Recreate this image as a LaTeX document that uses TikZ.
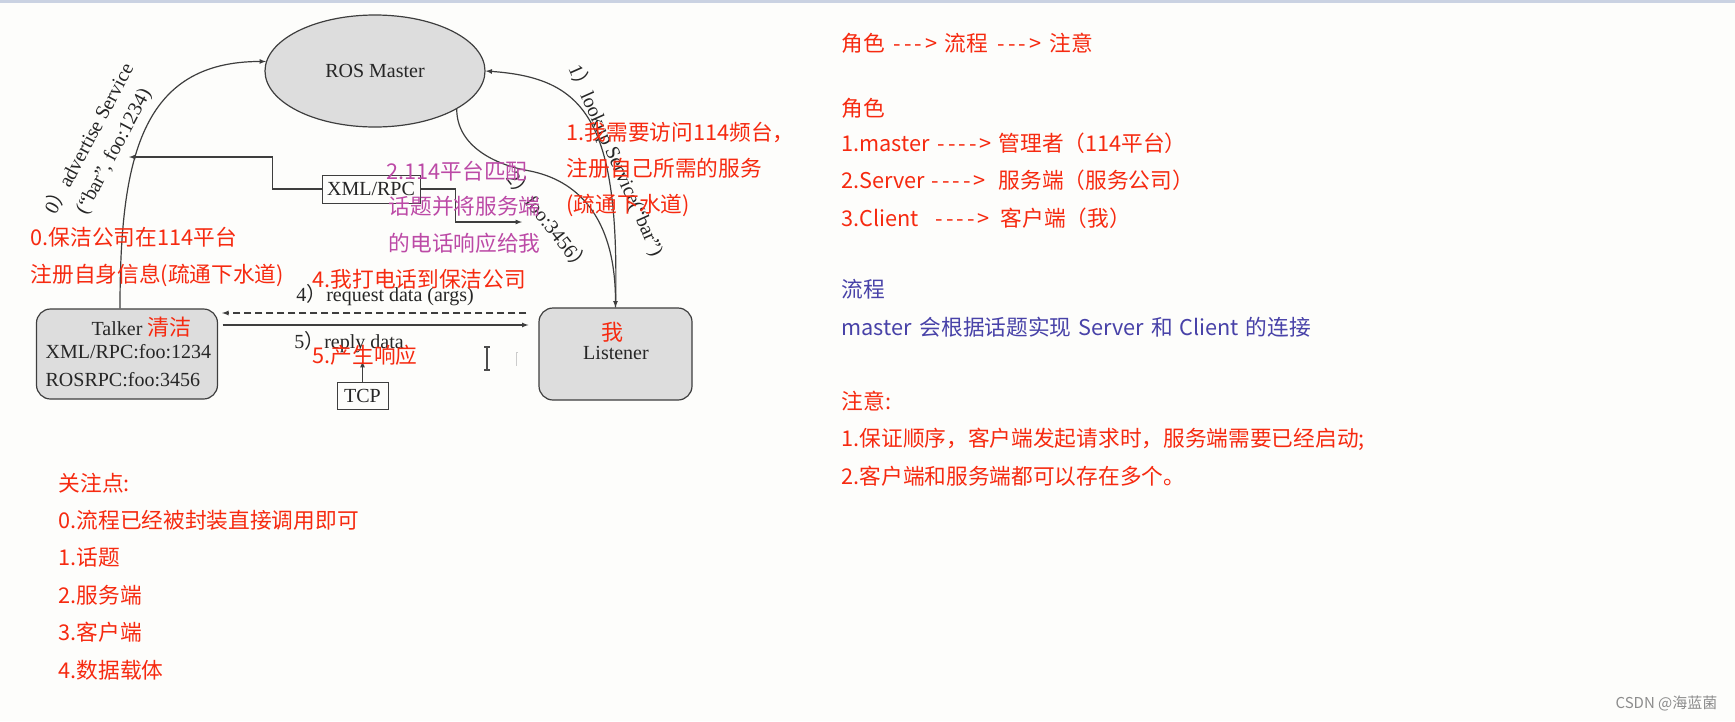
\documentclass[tikz,border=0pt]{standalone}
\usepackage{fontspec}
\setmainfont{Liberation Serif}
\newfontfamily\cjk{Noto Sans CJK SC}
\usetikzlibrary{shapes.geometric}

\definecolor{notered}{RGB}{246,42,16}
\definecolor{notepurple}{RGB}{188,74,166}
\definecolor{noteblue}{RGB}{72,66,168}
\definecolor{boxfill}{RGB}{221,221,221}
\definecolor{boxedge}{RGB}{62,62,62}
\definecolor{pagebg}{RGB}{253,253,251}
\definecolor{topband}{RGB}{202,210,226}

\newcommand{\hy}{-\kern3pt}
\newcommand{\darr}{\hy\hy\hy>}
\newcommand{\ddarr}{\hy\hy\hy\hy>}

\begin{document}
\begin{tikzpicture}[>=latex, x=1pt, y=-1pt, line width=1.2pt,
    every node/.style={inner sep=0pt, text=black!85, font=\fontsize{20}{24}\selectfont},
    box/.style={draw=boxedge, fill=boxfill, rounded corners=14pt},
    tag/.style={draw=boxedge, fill=pagebg, line width=1pt},
    conn/.style={draw=boxedge},
    note/.style={anchor=west, text=notered, font=\cjk\fontsize{21.7}{26}\selectfont},
    notep/.style={note, text=notepurple},
    noteb/.style={note, text=noteblue}]
\useasboundingbox (0,0) rectangle (1735,721);
\fill[pagebg] (0,0) rectangle (1735,721);
\fill[topband] (0,0) rectangle (1735,3);

% nodes
\node[ellipse, draw=boxedge, fill=boxfill, minimum width=220, minimum height=112] (master) at (375,71) {ROS Master};
\node[box, minimum width=181, minimum height=90] (talker) at (127,354) {};
\node[box, minimum width=153, minimum height=92] (listener) at (615.5,354) {};

\node[anchor=base west] (talkername) at (91,335) {Talker \textcolor{notered}{\cjk\fontsize{22}{24}\selectfont 清洁}};
\node[anchor=base west] (talkerxml) at (45,358) {XML/RPC:foo:1234};
\node[anchor=base west] (talkerros) at (45,386) {ROSRPC:foo:3456};
\node[text=notered, font=\cjk\fontsize{22}{24}\selectfont] (listenerme) at (612,332) {我};
\node (listenername) at (616,353) {Listener};

\node[tag, minimum width=98, minimum height=28] (xmlrpc) at (371,189) {XML/RPC};
\node[tag, minimum width=51, minimum height=27] (tcp) at (362.5,396) {TCP};

\node (req) at (385,295) {4{\cjk ）}request data (args)};
\node (reply) at (349,342) {5{\cjk ）}reply data};
\node[rotate=62, align=center, font=\fontsize{20}{27}\selectfont] (advlabel) at (101,145)
    {0{\cjk ）}advertise Service\\(“bar”, foo:1234)};
\node[rotate=-66] (lookuplabel) at (616,160) {1{\cjk ）}lookup Service(“bar”)};
\node[rotate=-52] (foolabel) at (549,222) {2{\cjk ）}foo:3456{\cjk ）}};

\coordinate (advtip) at (129,157);
\coordinate (footip) at (522,222);
\coordinate (fookink) at (530,171);
\coordinate (tcptip) at (362.5,361);

% connectors
\draw[conn, ->] ([xshift=-7pt]talker.north) .. controls +(0,-150) and +(-125,0) .. (master.175);
\draw[conn, ->] (listener.north) .. controls +(4.5,-188) and (585,78) .. (master.east);
\draw[conn, ->] (master.-25) .. controls +(0,37) and +(-35,-6) .. (fookink)
    .. controls +(45,9) and +(0,-93) .. (listener.north);
\draw[conn, ->] (xmlrpc.west) -- ++(-49,0) |- (advtip);
\draw[conn, ->] (xmlrpc.east) -- ++(35,0) |- (footip);
\draw[conn, ->, dash pattern=on 7pt off 4pt, shorten <=12pt, shorten >=4pt]
    ([yshift=41pt]listener.west) -- ([yshift=41pt]talker.east);
\draw[conn, ->, shorten <=4.5pt, shorten >=10pt]
    ([yshift=29pt]talker.east) -- ([yshift=29pt]listener.west);
\draw[conn, ->] (tcp.north) -- (tcptip);

% cursor left in the screenshot
\draw[line width=1.3pt, black!70] (484,347) -- (490,347) (487,347) -- (487,370) (484,370) -- (490,370);
\draw[line width=1pt, black!20] (518,352) -- (516,352) -- (516,366);

% notes over the diagram
\node[note] (n0a) at (30,237) {0.保洁公司在114平台};
\node[note] (n0b) at (30,275) {注册自身信息(疏通下水道)};
\node[note] (n4) at (312,279) {4.我打电话到保洁公司};
\node[note] (n5) at (312,355) {5.产生响应};
\node[note] (n1a) at (566,132) {1.我需要访问114频台，};
\node[note] (n1b) at (566,168) {注册自己所需的服务};
\node[note] (n1c) at (566,205) {(疏通下水道)};
\node[notep] (n2a) at (386,171) {2.114平台匹配};
\node[notep] (n2b) at (388,206) {话题并将服务端};
\node[notep] (n2c) at (388,243) {的电话响应给我};

% right column
\node[note] (order) at (841,43) {\makebox[52pt][l]{角色}\makebox[51pt][l]{\darr}\makebox[53pt][l]{流程}\makebox[52pt][l]{\darr}注意};
\node[note] (rolehead) at (841,108) {角色};
\node[note] (role1) at (841,143) {\makebox[96pt][l]{1.master}\makebox[61pt][l]{\ddarr}管理者（114平台）};
\node[note] (role2) at (841,180) {\makebox[90pt][l]{2.Server}\makebox[67pt][l]{\ddarr}服务端（服务公司）};
\node[note] (role3) at (841,218) {\makebox[94pt][l]{3.Client}\makebox[65pt][l]{\ddarr}客户端（我）};
\node[noteb] (flowhead) at (841,289) {流程};
\node[noteb] (flowtext) at (841,327) {master\kern3pt{} 会根据话题实现\kern2pt{} Server\kern2pt{} 和\kern2pt{} Client\kern2pt{} 的连接};
\node[note] (warnhead) at (841,401) {注意:};
\node[note] (warn1) at (841,439) {1.保证顺序，客户端发起请求时，服务端需要已经启动;};
\node[note] (warn2) at (841,476) {2.客户端和服务端都可以存在多个。};

% bottom left list
\node[note] (focushead) at (58,483) {关注点:};
\foreach \txt [count=\i] in {0.流程已经被封装直接调用即可, 1.话题, 2.服务端, 3.客户端, 4.数据载体}
{
    \node[note] (focus\i) at (58,{483+37.4*\i}) {\txt};
}

\node[anchor=east, text=black!45, font=\cjk\fontsize{15}{18}\selectfont] (csdn) at (1718,703) {CSDN @海蓝菌};
\end{tikzpicture}
\end{document}
